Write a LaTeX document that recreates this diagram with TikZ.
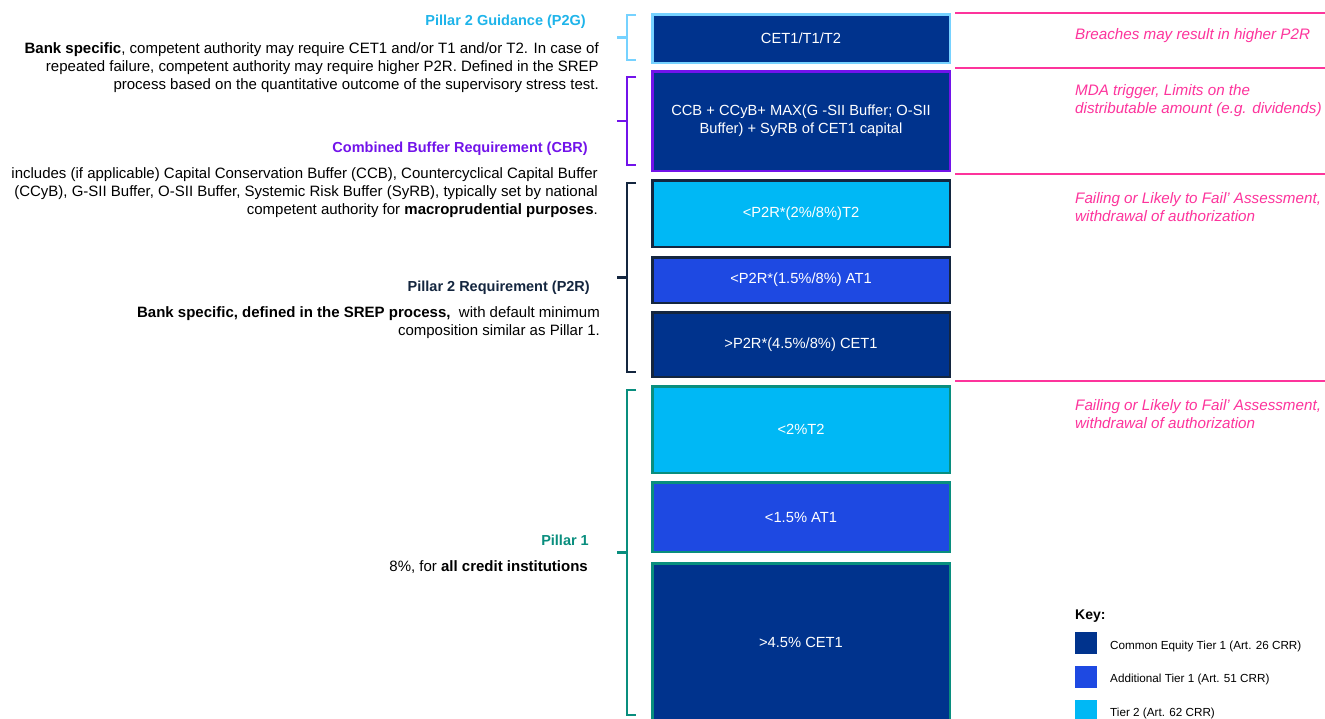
\documentclass[tikz,border=0pt]{standalone}
\usepackage{fontspec}
\setmainfont{Liberation Sans}
\usetikzlibrary{positioning,calc}
\definecolor{kdark}{HTML}{00338D}
\definecolor{kmid}{HTML}{1E49E2}
\definecolor{klight}{HTML}{00B8F5}
\definecolor{kpurple}{HTML}{7213EA}
\definecolor{kteal}{HTML}{098E7E}
\definecolor{knavy}{HTML}{14263F}
\definecolor{kpink}{HTML}{FD349C}
\definecolor{ksky}{HTML}{76D2FF}
\definecolor{ktitle}{HTML}{1EB4EA}

\begin{document}
\begin{tikzpicture}[x=1pt,y=-1pt,
    tier/.style={draw, line width=2.5pt, minimum width=297.5pt, inner sep=0pt, text=white, align=center, font=\fontsize{14.7}{18}\selectfont},
    side/.style={anchor=east, align=right, inner sep=0pt, font=\fontsize{15}{18}\selectfont},
    head/.style={anchor=east, inner sep=0pt, font=\bfseries\fontsize{14.5}{18}\selectfont},
    note/.style={anchor=west, align=left, inner sep=0pt, text=kpink, font=\itshape\fontsize{15.2}{17.5}\selectfont},
    brace/.style={line width=2.5pt},
    rule/.style={kpink, line width=2.5pt},
    keybox/.style={minimum size=22pt, inner sep=0pt, anchor=north west},
    keytext/.style={anchor=west, inner sep=0pt, font=\fontsize{11.7}{13}\selectfont}]
    \useasboundingbox[fill=white] (0,0) rectangle (1325,718);

    % Capital stack
    \node[tier, draw=ksky, fill=kdark, minimum height=48.5pt] (p2g) at (801,38.5) {CET1/T1/T2};
    \node[tier, draw=kpurple, fill=kdark, minimum height=99.5pt] (cbr) at (801,121) {CCB + CCyB+ MAX(G -SII Buffer; O-SII\\Buffer) + SyRB of CET1 capital};
    \node[tier, draw=knavy, fill=klight, minimum height=66.5pt] (p2rtt) at (801,213.5) {<P2R*(2\%/8\%)T2};
    \node[tier, draw=knavy, fill=kmid, minimum height=45.5pt] (p2rat) at (801,280) {<P2R*(1.5\%/8\%) AT1};
    \node[tier, draw=knavy, fill=kdark, minimum height=64.5pt] (p2rce) at (801,344.5) {>P2R*(4.5\%/8\%) CET1};
    \node[tier, draw=kteal, fill=klight, minimum height=86.5pt] (ponett) at (801,429.5) {<2\%T2};
    \node[tier, draw=kteal, fill=kmid, minimum height=69.5pt] (poneat) at (801,517) {<1.5\% AT1};
    \node[tier, draw=kteal, fill=kdark, minimum height=157.5pt] (ponece) at (801,642) {>4.5\% CET1};

    % Brackets
    \foreach \ya/\yb/\col in {15/60/ksky, 77/165/kpurple, 183/372/knavy, 390/715/kteal} {
        \draw[brace, \col] (636,\ya) -- (627,\ya) -- (627,\yb) -- (636,\yb);
        \draw[brace, \col] (617,{(\ya+\yb)/2}) -- (627,{(\ya+\yb)/2});
    }

    % Descriptions
    \node[head, text=ktitle] (p2ghead) at (586,21.5) {Pillar 2 Guidance (P2G)};
    \node[side] (p2gtext) at (599,67.5) {\textbf{Bank specific}, competent authority may require CET1 and/or T1 and/or T2. In case of\\repeated failure, competent authority may require higher P2R. Defined in the SREP\\process based on the quantitative outcome of the supervisory stress test.};
    \node[head, text=kpurple] (cbrhead) at (588,148.5) {Combined Buffer Requirement (CBR)};
    \node[side] (cbrtext) at (598,192.5) {includes (if applicable) Capital Conservation Buffer (CCB), Countercyclical Capital Buffer\\(CCyB), G-SII Buffer, O-SII Buffer, Systemic Risk Buffer (SyRB), typically set by national\\competent authority for \textbf{macroprudential purposes}.};
    \node[head, text=knavy] (p2rhead) at (590,287.5) {Pillar 2 Requirement (P2R)};
    \node[side] (p2rtext) at (600,323) {\textbf{Bank specific, defined in the SREP process,}\ \ with default minimum\\composition similar as Pillar 1.};
    \node[head, text=kteal] (ponehead) at (589,540.5) {Pillar 1};
    \node[side] (ponetext) at (588,567.5) {8\%, for \textbf{all credit institutions}};

    % Consequences
    \draw[rule] (955,13) -- (1325,13);
    \draw[rule] (955,68) -- (1325,68);
    \draw[rule] (955,174) -- (1325,174);
    \draw[rule] (955,381) -- (1325,381);
    \node[note] (p2gnote) at (1075,35.5) {Breaches may result in higher P2R};
    \node[note] (cbrnote) at (1075,100.5) {MDA trigger, Limits on the\\distributable amount (e.g. dividends)};
    \node[note] (p2rnote) at (1075,207) {Failing or Likely to Fail' Assessment,\\withdrawal of authorization};
    \node[note] (ponenote) at (1075,414) {Failing or Likely to Fail' Assessment,\\withdrawal of authorization};

    % Key
    \node[anchor=west, inner sep=0pt, font=\bfseries\fontsize{14}{16}\selectfont] (key) at (1075,616) {Key:};
    \node[keybox, fill=kdark] (keyce) at (1075,632) {};
    \node[keybox, fill=kmid] (keyat) at (1075,666) {};
    \node[keybox, fill=klight] (keytt) at (1075,700) {};
    \node[keytext] at (1110,646) {Common Equity Tier 1 (Art. 26 CRR)};
    \node[keytext] at (1110,679) {Additional Tier 1 (Art. 51 CRR)};
    \node[keytext] at (1110,713) {Tier 2 (Art. 62 CRR)};
\end{tikzpicture}
\end{document}
